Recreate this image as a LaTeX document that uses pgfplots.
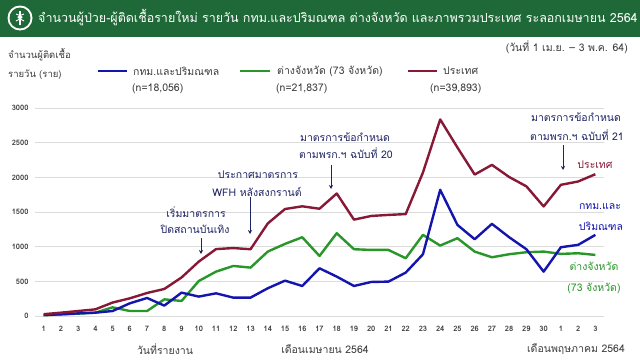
\documentclass[border=0pt]{standalone}
\usepackage{fontspec}
\setmainfont[Script=Thai]{Loma}
\usepackage{pgfplots}
\pgfplotsset{compat=1.18}
\usetikzlibrary{arrows.meta}
\definecolor{cblue}{RGB}{20,20,175}
\definecolor{cgreen}{RGB}{40,150,40}
\definecolor{cred}{RGB}{135,25,55}
\definecolor{navy}{RGB}{30,35,100}
\definecolor{tgreen}{RGB}{30,105,55}
\definecolor{txt}{RGB}{60,60,60}
\begin{document}
\begin{tikzpicture}[x=1pt,y=1pt]
\useasboundingbox (0,0) rectangle (640,360);
\fill[white] (0,0) rectangle (640,360);
% title band
\fill[tgreen] (0,323) rectangle (640,360);
\fill[white] (20,342) circle (12.5);
\fill[tgreen] (20,342) circle (10.5);
\draw[white,line width=1.2pt] (20,335) -- (20,349);
\draw[white,line width=0.9pt] (16,346) .. controls (24,343) .. (16,339);
\draw[white,line width=0.9pt] (24,346) .. controls (16,343) .. (24,339);
\node[anchor=west,text=white,inner sep=0pt,font=\fontsize{12.5}{14}\selectfont] at (38,342) {จำนวนผู้ป่วย-ผู้ติดเชื้อรายใหม่ รายวัน กทม.และปริมณฑล ต่างจังหวัด และภาพรวมประเทศ ระลอกเมษายน 2564};
% top right date
\node[anchor=east,text=txt,inner sep=0pt,font=\fontsize{10.5}{12}\selectfont] at (628,313) {(วันที่ 1 เม.ย. – 3 พ.ค. 64)};
% y label
\node[anchor=west,text=txt,inner sep=0pt,font=\fontsize{9.5}{11}\selectfont] at (8,305) {จำนวนผู้ติดเชื้อ};
\node[anchor=west,text=txt,inner sep=0pt,font=\fontsize{9.5}{11}\selectfont] at (8,285) {รายวัน (ราย)};
% legend
\draw[cblue,line width=2.4pt] (98,289) -- (127,289);
\node[anchor=west,text=txt,inner sep=0pt,font=\fontsize{10.5}{12}\selectfont] at (133,289) {กทม.และปริมณฑล};
\node[anchor=west,text=txt,inner sep=0pt,font=\fontsize{10.5}{12}\selectfont] at (132,271) {(n=18,056)};
\draw[cgreen,line width=2.4pt] (240,289) -- (270,289);
\node[anchor=west,text=txt,inner sep=0pt,font=\fontsize{10.5}{12}\selectfont] at (277,289) {ต่างจังหวัด (73 จังหวัด)};
\node[anchor=west,text=txt,inner sep=0pt,font=\fontsize{10.5}{12}\selectfont] at (276,271) {(n=21,837)};
\draw[cred,line width=2.4pt] (408,289) -- (437,289);
\node[anchor=west,text=txt,inner sep=0pt,font=\fontsize{10.5}{12}\selectfont] at (443,289) {ประเทศ};
\node[anchor=west,text=txt,inner sep=0pt,font=\fontsize{10.5}{12}\selectfont] at (430,271) {(n=39,893)};
\begin{axis}[
  at={(35pt,44pt)}, anchor=south west, scale only axis,
  width=569pt, height=208pt,
  xmin=0.5, xmax=33.5, ymin=0, ymax=3000,
  axis line style={draw=none},
  tick style={draw=none},
  ymajorgrids, grid style={draw=gray!28,line width=0.9pt},
  ytick={0,500,...,3000},
  xtick={1,...,33},
  xticklabels={1,2,3,4,5,6,7,8,9,10,11,12,13,14,15,16,17,18,19,20,21,22,23,24,25,26,27,28,29,30,1,2,3},
  /pgf/number format/assume math mode=true,
  yticklabel style={font=\fontsize{7.5}{8}\selectfont\bfseries,text=txt,xshift=-3pt,/pgf/number format/1000 sep={}},
  xticklabel style={font=\fontsize{7.5}{8}\selectfont\bfseries,text=txt,yshift=-7pt},
  clip=false,
]
\addplot[cgreen,line width=2.4pt,line join=round] coordinates {
(1,10)(2,24)(3,34)(4,48)(5,125)(6,72)(7,72)(8,240)(9,217)(10,505)(11,640)(12,722)(13,698)(14,929)(15,1040)(16,1136)(17,866)(18,1194)(19,963)(20,953)(21,953)(22,833)(23,1170)(24,1016)(25,1122)(26,929)(27,847)(28,891)(29,920)(30,929)(31,896)(32,905)(33,881)};
\addplot[cblue,line width=2.4pt,line join=round] coordinates {
(1,15)(2,24)(3,38)(4,48)(5,72)(6,183)(7,260)(8,150)(9,337)(10,280)(11,327)(12,265)(13,265)(14,400)(15,510)(16,433)(17,688)(18,568)(19,433)(20,491)(21,496)(22,626)(23,890)(24,1820)(25,1314)(26,1107)(27,1329)(28,1136)(29,963)(30,640)(31,992)(32,1026)(33,1170)};
\addplot[cred,line width=2.4pt,line join=round] coordinates {
(1,26)(2,48)(3,72)(4,96)(5,194)(6,255)(7,332)(8,390)(9,556)(10,785)(11,965)(12,980)(13,963)(14,1335)(15,1543)(16,1582)(17,1547)(18,1767)(19,1390)(20,1443)(21,1458)(22,1470)(23,2070)(24,2835)(25,2430)(26,2040)(27,2180)(28,2005)(29,1870)(30,1580)(31,1892)(32,1940)(33,2045)};
\end{axis}
% annotations
\begin{scope}[every node/.style={text=navy,inner sep=0pt,font=\fontsize{10.5}{12}\selectfont}]
\node at (196,148) {เริ่มมาตรการ};
\node at (195,131) {ปิดสถานบันเทิง};
\draw[navy,line width=1pt,-{Stealth[length=4pt,width=4pt]}] (201,122) -- (201,106);
\node at (258,185) {ประกาศมาตรการ};
\node at (257,168) {WFH หลังสงกรานต์};
\draw[navy,line width=1pt,-{Stealth[length=4pt,width=4pt]}] (250,163) -- (250,126);
\node at (345,223) {มาตรการข้อกำหนด};
\node at (346,207) {ตามพรก.ฯ ฉบับที่ 20};
\draw[navy,line width=1pt,-{Stealth[length=4pt,width=4pt]}] (331,195) -- (331,171);
\node at (576,243) {มาตรการข้อกำหนด};
\node at (577,225) {ตามพรก.ฯ ฉบับที่ 21};
\draw[navy,line width=1pt,-{Stealth[length=4pt,width=4pt]}] (563,215) -- (563,190);
\node[text=cred] at (595,195) {ประเทศ};
\node[text=cblue] at (600,153) {กทม.และ};
\node[text=cblue] at (601,134) {ปริมณฑล};
\node[text=cgreen] at (594,94) {ต่างจังหวัด};
\node[text=cgreen] at (594,72) {(73 จังหวัด)};
\end{scope}
% x labels
\node[text=txt,inner sep=0pt,font=\fontsize{10.5}{12}\selectfont] at (165,11) {วันที่รายงาน};
\node[text=txt,inner sep=0pt,font=\fontsize{10.5}{12}\selectfont] at (325,11) {เดือนเมษายน 2564};
\node[text=txt,inner sep=0pt,font=\fontsize{10.5}{12}\selectfont] at (576,11) {เดือนพฤษภาคม 2564};
\end{tikzpicture}
\end{document}
